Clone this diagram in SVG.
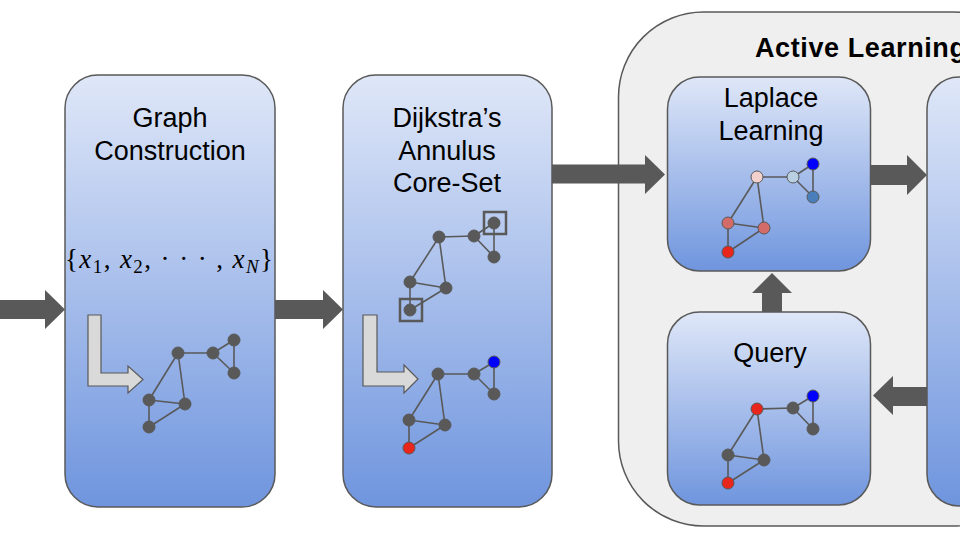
<svg xmlns="http://www.w3.org/2000/svg" width="960" height="540" viewBox="0 0 960 540">
<defs>
<linearGradient id="bg" x1="0" y1="0" x2="0" y2="1">
<stop offset="0" stop-color="#dfe7f8"/>
<stop offset="1" stop-color="#6f95de"/>
</linearGradient>
<style>
.box{fill:url(#bg);stroke:#595959;stroke-width:1.5}
.lbl{font-family:"Liberation Sans",Arial,sans-serif;font-size:27px;fill:#000;text-anchor:middle}
.e{stroke:#595959;stroke-width:1.6;fill:none}
.n{stroke:#595959;stroke-width:1}
.g{fill:#595959}
.arr{fill:#595959}
.L{fill:#d9d9d9;stroke:#595959;stroke-width:1.2}
.sq{fill:none;stroke:#595959;stroke-width:2.5}
</style>
</defs>
<rect width="960" height="540" fill="#fff"/>

<g id="active-learning">
<rect x="618.5" y="12" width="420" height="514" rx="85" fill="#efefef" stroke="#595959" stroke-width="1.5"/>
<text x="755" y="57" font-family="Liberation Sans,Arial,sans-serif" font-size="27" font-weight="bold" letter-spacing="0.6">Active Learning</text>
</g>

<g id="graph-construction">
<rect class="box" x="65" y="75" width="210" height="432" rx="33"/>
<text class="lbl" x="170" y="127">Graph</text>
<text class="lbl" x="170" y="160">Construction</text>
<text x="65" y="268" font-family="Liberation Serif,'Times New Roman',serif" font-size="27" textLength="208" lengthAdjust="spacing">{<tspan font-style="italic">x</tspan><tspan font-size="19" dy="5">1</tspan><tspan dy="-5">, </tspan><tspan font-style="italic">x</tspan><tspan font-size="19" dy="5">2</tspan><tspan dy="-5">, · · · , </tspan><tspan font-style="italic">x</tspan><tspan font-size="19" font-style="italic" dy="5">N</tspan><tspan dy="-5">}</tspan></text>
<path class="L" d="M88,315 L101,315 L101,373 L128,373 L128,366 L143,379.5 L128,393 L128,386 L88,386 Z"/>
<g>
<line class="e" x1="178" y1="353" x2="213" y2="353"/>
<line class="e" x1="213" y1="353" x2="234" y2="340"/>
<line class="e" x1="213" y1="353" x2="234" y2="373"/>
<line class="e" x1="234" y1="340" x2="234" y2="373"/>
<line class="e" x1="178" y1="353" x2="149" y2="400"/>
<line class="e" x1="178" y1="353" x2="185" y2="404"/>
<line class="e" x1="149" y1="400" x2="185" y2="404"/>
<line class="e" x1="149" y1="400" x2="149" y2="427"/>
<line class="e" x1="149" y1="427" x2="185" y2="404"/>
<circle class="n g" cx="178" cy="353" r="6"/>
<circle class="n g" cx="213" cy="353" r="6"/>
<circle class="n g" cx="234" cy="340" r="6"/>
<circle class="n g" cx="234" cy="373" r="6"/>
<circle class="n g" cx="149" cy="400" r="6"/>
<circle class="n g" cx="185" cy="404" r="6"/>
<circle class="n g" cx="149" cy="427" r="6"/>
</g>
</g>

<g id="dijkstra">
<rect class="box" x="343" y="75" width="209" height="432" rx="33"/>
<text class="lbl" x="447" y="127">Dijkstra’s</text>
<text class="lbl" x="447" y="160">Annulus</text>
<text class="lbl" x="447" y="192">Core-Set</text>
<g>
<line class="e" x1="439" y1="237" x2="474" y2="236"/>
<line class="e" x1="474" y1="236" x2="494" y2="223"/>
<line class="e" x1="474" y1="236" x2="494" y2="257"/>
<line class="e" x1="494" y1="223" x2="494" y2="257"/>
<line class="e" x1="439" y1="237" x2="410" y2="282"/>
<line class="e" x1="439" y1="237" x2="446" y2="288"/>
<line class="e" x1="410" y1="282" x2="446" y2="288"/>
<line class="e" x1="410" y1="282" x2="410" y2="310"/>
<line class="e" x1="410" y1="310" x2="446" y2="288"/>
<circle class="n g" cx="439" cy="237" r="6"/>
<circle class="n g" cx="474" cy="236" r="6"/>
<circle class="n g" cx="494" cy="223" r="6"/>
<circle class="n g" cx="494" cy="257" r="6"/>
<circle class="n g" cx="410" cy="282" r="6"/>
<circle class="n g" cx="446" cy="288" r="6"/>
<circle class="n g" cx="410" cy="310" r="6"/>
<rect class="sq" x="484" y="212" width="22" height="22"/>
<rect class="sq" x="400" y="299" width="22" height="22"/>
</g>
<path class="L" d="M363,315 L377,315 L377,372 L404,372 L404,365 L418,379 L404,393 L404,386 L363,386 Z"/>
<g>
<line class="e" x1="438" y1="374" x2="474" y2="374"/>
<line class="e" x1="474" y1="374" x2="494" y2="362"/>
<line class="e" x1="474" y1="374" x2="494" y2="394"/>
<line class="e" x1="494" y1="362" x2="494" y2="394"/>
<line class="e" x1="438" y1="374" x2="409" y2="420"/>
<line class="e" x1="438" y1="374" x2="445" y2="425"/>
<line class="e" x1="409" y1="420" x2="445" y2="425"/>
<line class="e" x1="409" y1="420" x2="409" y2="448"/>
<line class="e" x1="409" y1="448" x2="445" y2="425"/>
<circle class="n g" cx="438" cy="374" r="6"/>
<circle class="n g" cx="474" cy="374" r="6"/>
<circle class="n" cx="494" cy="362" r="6" fill="#0000ff"/>
<circle class="n g" cx="494" cy="394" r="6"/>
<circle class="n g" cx="409" cy="420" r="6"/>
<circle class="n g" cx="445" cy="425" r="6"/>
<circle class="n" cx="409" cy="448" r="6" fill="#e8261c"/>
</g>
</g>

<g id="laplace-learning">
<rect class="box" x="667.5" y="77" width="203" height="194" rx="32"/>
<text class="lbl" x="771" y="107">Laplace</text>
<text class="lbl" x="771" y="140">Learning</text>
<line class="e" x1="757" y1="177" x2="793" y2="177"/>
<line class="e" x1="793" y1="177" x2="813" y2="164"/>
<line class="e" x1="793" y1="177" x2="813" y2="197"/>
<line class="e" x1="813" y1="164" x2="813" y2="197"/>
<line class="e" x1="757" y1="177" x2="728" y2="223"/>
<line class="e" x1="757" y1="177" x2="764" y2="228"/>
<line class="e" x1="728" y1="223" x2="764" y2="228"/>
<line class="e" x1="728" y1="223" x2="728" y2="252"/>
<line class="e" x1="728" y1="252" x2="764" y2="228"/>
<circle class="n" cx="757" cy="177" r="6" fill="#f2d0cc"/>
<circle class="n" cx="793" cy="177" r="6" fill="#b9d0e2"/>
<circle class="n" cx="813" cy="164" r="6" fill="#0000ff"/>
<circle class="n" cx="813" cy="197" r="6" fill="#4a7ebb"/>
<circle class="n" cx="728" cy="223" r="6" fill="#d36b68"/>
<circle class="n" cx="764" cy="228" r="6" fill="#d36b68"/>
<circle class="n" cx="728" cy="252" r="6" fill="#e8261c"/>
</g>

<g id="query">
<rect class="box" x="667.5" y="312" width="203" height="193" rx="32"/>
<text class="lbl" x="770" y="362">Query</text>
<line class="e" x1="757" y1="409" x2="793" y2="408"/>
<line class="e" x1="793" y1="408" x2="813" y2="396"/>
<line class="e" x1="793" y1="408" x2="813" y2="429"/>
<line class="e" x1="813" y1="396" x2="813" y2="429"/>
<line class="e" x1="757" y1="409" x2="728" y2="455"/>
<line class="e" x1="757" y1="409" x2="764" y2="460"/>
<line class="e" x1="728" y1="455" x2="764" y2="460"/>
<line class="e" x1="728" y1="455" x2="728" y2="483"/>
<line class="e" x1="728" y1="483" x2="764" y2="460"/>
<circle class="n" cx="757" cy="409" r="6" fill="#e8261c"/>
<circle class="n g" cx="793" cy="408" r="6"/>
<circle class="n" cx="813" cy="396" r="6" fill="#0000ff"/>
<circle class="n g" cx="813" cy="429" r="6"/>
<circle class="n g" cx="728" cy="455" r="6"/>
<circle class="n g" cx="764" cy="460" r="6"/>
<circle class="n" cx="728" cy="483" r="6" fill="#e8261c"/>
</g>

<g id="right-box">
<rect class="box" x="927" y="77" width="220" height="429" rx="32"/>
</g>

<g id="connectors">
<path class="arr" d="M0,300 L45,300 L45,290 L65,309.5 L45,329 L45,319 L0,319 Z"/>
<path class="arr" d="M275,300 L323,300 L323,290 L343,309.5 L323,329 L323,319 L275,319 Z"/>
<path class="arr" d="M552,164.5 L645,164.5 L645,155 L665,174.5 L645,194 L645,183.5 L552,183.5 Z"/>
<path class="arr" d="M871,165 L907,165 L907,155 L927,175 L907,195 L907,185 L871,185 Z"/>
<path class="arr" d="M927,387 L893,387 L893,376 L873,395.5 L893,415 L893,406 L927,406 Z"/>
<path class="arr" d="M762,312 L762,293 L752,293 L772,273 L792,293 L782,293 L782,312 Z"/>
</g>
</svg>
